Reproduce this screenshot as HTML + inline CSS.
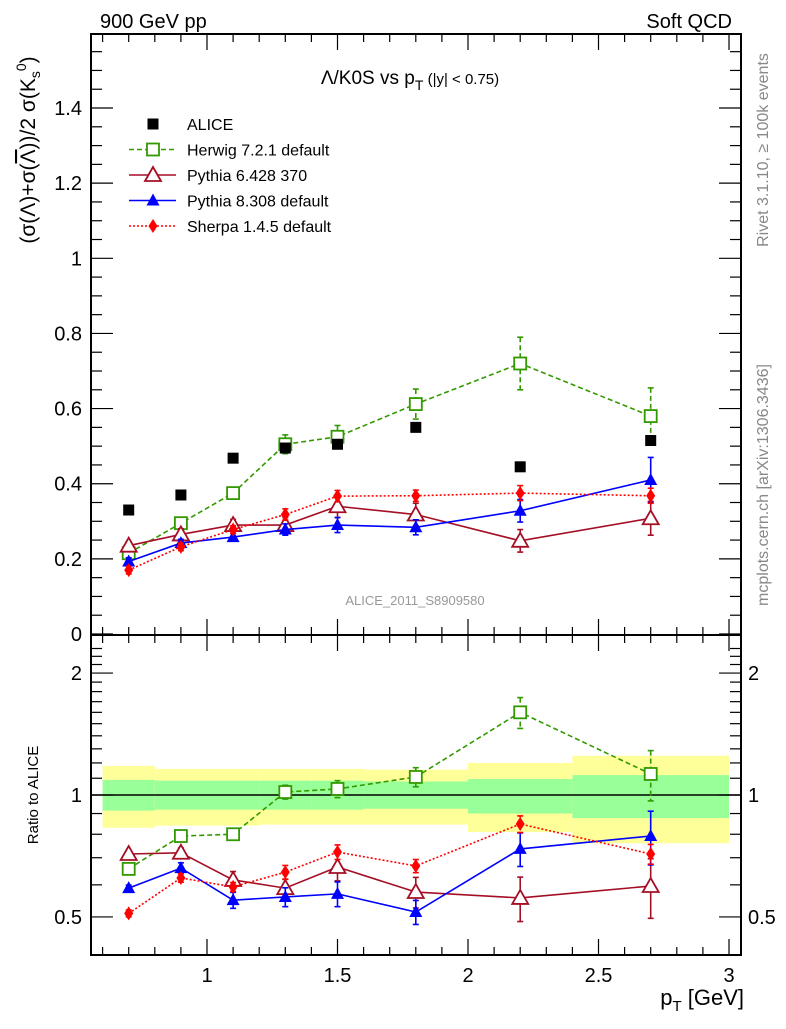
<!DOCTYPE html>
<html><head><meta charset="utf-8"><style>
body{margin:0;background:#fff}
svg text{font-family:"Liberation Sans",sans-serif}
</style></head><body>
<svg id="c" width="786" height="1024" xmlns="http://www.w3.org/2000/svg">
<text x="100" y="28" font-size="20">900 GeV pp</text>
<text x="732" y="28" font-size="20" text-anchor="end">Soft QCD</text>
<text x="410" y="84" font-size="19" text-anchor="middle">Λ/K0S vs p<tspan font-size="14" dy="6">T</tspan><tspan font-size="15" dy="-6"> (|y| &lt; 0.75)</tspan></text>
<text x="415" y="605" font-size="13" fill="#999" text-anchor="middle">ALICE_2011_S8909580</text>
<text transform="translate(768,150) rotate(-90)" font-size="16" fill="#888" text-anchor="middle">Rivet 3.1.10, ≥ 100k events</text>
<text transform="translate(768,485) rotate(-90)" font-size="16" fill="#888" text-anchor="middle">mcplots.cern.ch [arXiv:1306.3436]</text>
<text transform="translate(35,150) rotate(-90)" font-size="21" text-anchor="middle">(σ(Λ)+σ(<tspan text-decoration="overline">Λ</tspan>))/2 σ(K<tspan font-size="14" dy="5">s</tspan><tspan font-size="14" dy="-14">0</tspan><tspan dy="9">)</tspan></text>
<text transform="translate(38,795) rotate(-90)" font-size="15" text-anchor="middle">Ratio to ALICE</text>
<text x="744" y="1005" font-size="22" text-anchor="end">p<tspan font-size="15" dy="6">T</tspan><tspan dy="-6"> [GeV]</tspan></text>
</svg>
<script>
const xs=[0.7,0.9,1.1,1.3,1.5,1.8,2.2,2.7];
const alice=[0.33,0.37,0.468,0.495,0.505,0.55,0.445,0.515];
const herwig=[0.215,0.295,0.375,0.505,0.525,0.612,0.72,0.58];
const herwigErr=[0.01,0.01,0.01,0.025,0.03,0.04,0.07,0.075];
const py6=[0.235,0.265,0.29,0.29,0.34,0.318,0.248,0.308];
const py6Err=[0.01,0.015,0.015,0.02,0.03,0.03,0.03,0.045];
const py8=[0.193,0.242,0.258,0.278,0.29,0.284,0.328,0.41];
const py8Err=[0.01,0.01,0.01,0.015,0.02,0.02,0.03,0.06];
const sherpa=[0.17,0.232,0.278,0.318,0.367,0.368,0.375,0.368];
const sherpaErr=[0.01,0.01,0.01,0.015,0.015,0.015,0.02,0.02];
const rHerwig=[0.657,0.792,0.80,1.017,1.035,1.108,1.60,1.127];
const rHerwigErr=[0.01,0.01,0.02,0.04,0.05,0.06,0.14,0.16];
const rPy6=[0.715,0.72,0.617,0.589,0.664,0.576,0.557,0.596];
const rPy6Err=[0.01,0.02,0.03,0.03,0.05,0.05,0.07,0.1];
const rPy8=[0.589,0.66,0.55,0.56,0.57,0.514,0.736,0.792];
const rPy8Err=[0.01,0.02,0.025,0.03,0.04,0.035,0.07,0.12];
const rSherpa=[0.51,0.624,0.593,0.645,0.723,0.668,0.848,0.715];
const rSherpaErr=[0.01,0.015,0.015,0.025,0.03,0.025,0.04,0.04];
const binEdges=[0.6,0.8,1.0,1.2,1.4,1.6,2.0,2.4,3.0];
const yelHi=[1.18,1.16,1.16,1.16,1.16,1.155,1.2,1.25];
const yelLo=[0.83,0.84,0.84,0.845,0.845,0.845,0.81,0.76];
const grnHi=[1.09,1.085,1.085,1.085,1.085,1.08,1.095,1.12];
const grnLo=[0.915,0.92,0.92,0.92,0.92,0.925,0.90,0.877];
const mainTicks=[0,0.2,0.4,0.6,0.8,1,1.2,1.4];
const mainTickLabels=["0","0.2","0.4","0.6","0.8","1","1.2","1.4"];
const xTicks=[1,1.5,2,2.5,3];
const xTickLabels=["1","1.5","2","2.5","3"];
const ratioTicks=[0.5,1,2];
const ratioTickLabels=["0.5","1","2"];

const NS="http://www.w3.org/2000/svg",svg=document.getElementById('c');
const L=91,R=741,T=34,M=635,B=955;
const X=v=>207+(v-1)*261;
const Y=v=>634-v*375.7;
const YR=v=>795-405*Math.log10(v);
function el(t,a,p){const e=document.createElementNS(NS,t);for(const k in a)e.setAttribute(k,a[k]);(p||svg).appendChild(e);return e;}
for(let i=0;i<binEdges.length-1;i++){
 const x0=Math.max(X(binEdges[i]),L+1),x1=Math.min(X(binEdges[i+1]),R-1);
 const y=el('rect',{x:x0,y:YR(yelHi[i]),width:x1-x0,height:YR(yelLo[i])-YR(yelHi[i]),fill:'#ffff99'});
 
 
 const g=el('rect',{x:x0,y:YR(grnHi[i]),width:x1-x0,height:YR(grnLo[i])-YR(grnHi[i]),fill:'#99ff99'});
 
 
}
el('line',{x1:L,x2:R,y1:YR(1),y2:YR(1),stroke:'#000','stroke-width':1.5});
for(const [a,b,n] of [[T,M,'main-frame'],[M,B,'ratio-frame']]){
 const f=el('rect',{x:L,y:a,width:R-L,height:b-a,fill:'none',stroke:'#000','stroke-width':2});
 
 
}
for(let v=0.6;v<=3.0001;v+=0.1){
 const x=X(v),maj=Math.abs(v*2-Math.round(v*2))<1e-6,len=maj?16:8;
 for(const [a,d] of [[T,1],[M,-1],[M,1],[B,-1]]) el('line',{x1:x,x2:x,y1:a,y2:a+d*len,stroke:'#000','stroke-width':1.2});
}
xTicks.forEach((v,i)=>{const t=el('text',{x:X(v),y:982,'font-size':20,'text-anchor':'middle'});t.textContent=xTickLabels[i];
 
 });
for(let v=0;v<=1.6;v+=0.05){const y=Y(v);if(y<T)break;const maj=Math.abs(v*5-Math.round(v*5))<1e-6,len=maj?22:11;
 el('line',{x1:L,x2:L+len,y1:y,y2:y,stroke:'#000','stroke-width':1.2});el('line',{x1:R,x2:R-len,y1:y,y2:y,stroke:'#000','stroke-width':1.2});}
mainTicks.forEach((v,i)=>{const t=el('text',{x:82,y:Y(v)+7,'font-size':20,'text-anchor':'end'});t.textContent=mainTickLabels[i];
 
 });
const rmin=[0.5,0.6,0.7,0.8,0.9,1,1.1,1.2,1.3,1.4,1.5,1.6,1.7,1.8,1.9,2,2.1,2.2,2.3];
rmin.forEach(v=>{const y=YR(v);if(y<M+2||y>B-2)return;const maj=[0.5,1,2].includes(v),len=maj?22:11;
 el('line',{x1:L,x2:L+len,y1:y,y2:y,stroke:'#000','stroke-width':1.2});el('line',{x1:R,x2:R-len,y1:y,y2:y,stroke:'#000','stroke-width':1.2});});
ratioTicks.forEach((v,i)=>{for(const [x,a] of [[82,'end'],[748,'start']]){const t=el('text',{x:x,y:YR(v)+7,'font-size':20,'text-anchor':a});t.textContent=ratioTickLabels[i];
 
 }});
function marker(kind,x,y,c,g){
 if(kind=='sq') return el('rect',{x:x-5.5,y:y-5.5,width:11,height:11,fill:c},g);
 if(kind=='osq') return el('rect',{x:x-6,y:y-6,width:12,height:12,fill:'#fff',stroke:c,'stroke-width':1.8},g);
 if(kind=='otri') return el('polygon',{points:`${x},${y-8} ${x-8},${y+6} ${x+8},${y+6}`,fill:'#fff',stroke:c,'stroke-width':1.8},g);
 if(kind=='tri') return el('polygon',{points:`${x},${y-7} ${x-6.5},${y+5} ${x+6.5},${y+5}`,fill:c},g);
 if(kind=='dia') return el('polygon',{points:`${x},${y-7} ${x-4.5},${y} ${x},${y+7} ${x+4.5},${y}`,fill:c},g);
}
function series(name,vals,errs,yf,c,dash,kind){
 const g=el('g',{});
 
 
 if(dash!==null){el('polyline',{points:vals.map((v,i)=>X(xs[i])+','+yf(v)).join(' '),fill:'none',stroke:c,'stroke-width':1.6,'stroke-dasharray':dash},g);}
 vals.forEach((v,i)=>{const x=X(xs[i]);
  if(errs){el('line',{x1:x,x2:x,y1:yf(v+errs[i]),y2:yf(v-errs[i]),stroke:c,'stroke-width':1.6,'stroke-dasharray':dash||''},g);
   for(const e of [v+errs[i],v-errs[i]]) el('line',{x1:x-3,x2:x+3,y1:yf(e),y2:yf(e),stroke:c,'stroke-width':1.6},g);}
  const m=marker(kind,x,yf(v),c,g);
  
  });
}
series('herwig-series',herwig,herwigErr,Y,'#339900','5,3','osq');
series('pythia6-series',py6,py6Err,Y,'#a50f26','','otri');
series('pythia8-series',py8,py8Err,Y,'#0000ff','','tri');
series('sherpa-series',sherpa,sherpaErr,Y,'#ff0000','2,2','dia');
series('alice-series',alice,null,Y,'#000',null,'sq');
series('herwig-ratio',rHerwig,rHerwigErr,YR,'#339900','5,3','osq');
series('pythia6-ratio',rPy6,rPy6Err,YR,'#a50f26','','otri');
series('pythia8-ratio',rPy8,rPy8Err,YR,'#0000ff','','tri');
series('sherpa-ratio',rSherpa,rSherpaErr,YR,'#ff0000','2,2','dia');
const leg=[['ALICE','#000',null,'sq'],['Herwig 7.2.1 default','#339900','5,3','osq'],['Pythia 6.428 370','#a50f26','','otri'],['Pythia 8.308 default','#0000ff','','tri'],['Sherpa 1.4.5 default','#ff0000','2,2','dia']];
leg.forEach((l,i)=>{const y=124+i*25.5;const g=el('g',{});
 
 
 if(l[2]!==null) el('line',{x1:129,x2:176,y1:y,y2:y,stroke:l[1],'stroke-width':1.6,'stroke-dasharray':l[2]},g);
 marker(l[3],153,y,l[1],g);
 const t=el('text',{x:187,y:y+6,'font-size':16},g);t.textContent=l[0];});
</script>
</body></html>
